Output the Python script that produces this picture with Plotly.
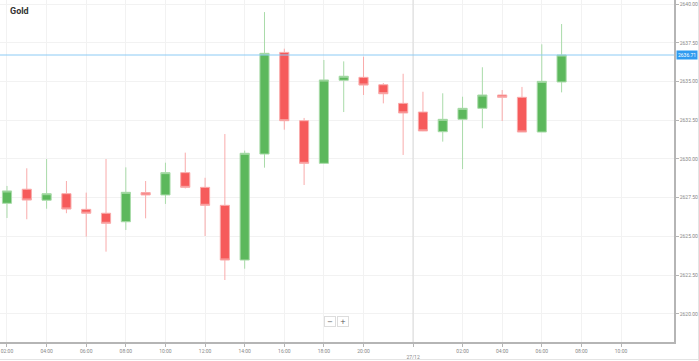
import plotly.graph_objects as go

# ---- data ----
times = [
    "2024-12-26 02:00", "2024-12-26 03:00", "2024-12-26 04:00", "2024-12-26 05:00",
    "2024-12-26 06:00", "2024-12-26 07:00", "2024-12-26 08:00", "2024-12-26 09:00",
    "2024-12-26 10:00", "2024-12-26 11:00", "2024-12-26 12:00", "2024-12-26 13:00",
    "2024-12-26 14:00", "2024-12-26 15:00", "2024-12-26 16:00", "2024-12-26 17:00",
    "2024-12-26 18:00", "2024-12-26 19:00", "2024-12-26 20:00", "2024-12-26 21:00",
    "2024-12-26 22:00", "2024-12-27 00:00", "2024-12-27 01:00", "2024-12-27 02:00",
    "2024-12-27 03:00", "2024-12-27 04:00", "2024-12-27 05:00", "2024-12-27 06:00",
    "2024-12-27 07:00",
]
open_ = [2627.14, 2628.05, 2627.34, 2627.76, 2626.75, 2626.50, 2625.95, 2627.83,
         2627.68, 2629.12, 2628.17, 2627.01, 2623.48, 2630.32, 2636.88, 2632.47,
         2629.72, 2635.08, 2635.27, 2634.79, 2633.59, 2633.03, 2631.76, 2632.56,
         2633.27, 2634.13, 2633.98, 2631.74, 2634.97]
high = [2628.26, 2629.40, 2630.00, 2628.58, 2627.83, 2630.00, 2629.46, 2628.58,
        2629.76, 2630.41, 2628.79, 2631.61, 2630.54, 2639.48, 2637.12, 2632.65,
        2636.39, 2636.30, 2636.60, 2634.90, 2635.50, 2634.34, 2634.24, 2634.02,
        2635.92, 2634.45, 2634.65, 2637.40, 2638.71]
low = [2626.19, 2626.11, 2626.79, 2626.50, 2624.99, 2624.02, 2625.42, 2626.17,
       2627.10, 2628.10, 2625.03, 2622.19, 2622.92, 2629.44, 2631.89, 2628.32,
       2629.68, 2633.03, 2634.13, 2633.59, 2630.26, 2631.80, 2631.12, 2629.35,
       2631.98, 2632.45, 2631.74, 2631.74, 2634.30]
close = [2627.94, 2627.35, 2627.76, 2626.77, 2626.50, 2625.85, 2627.85, 2627.68,
         2629.12, 2628.17, 2627.01, 2623.48, 2630.37, 2636.82, 2632.47, 2629.72,
         2635.10, 2635.34, 2634.77, 2634.21, 2632.97, 2631.81, 2632.56, 2633.27,
         2634.13, 2633.98, 2631.74, 2635.01, 2636.71]

x_tickvals = [
    "2024-12-26 02:00", "2024-12-26 04:00", "2024-12-26 06:00", "2024-12-26 08:00",
    "2024-12-26 10:00", "2024-12-26 12:00", "2024-12-26 14:00", "2024-12-26 16:00",
    "2024-12-26 18:00", "2024-12-26 20:00", "2024-12-26 22:30",
    "2024-12-27 02:00", "2024-12-27 04:00", "2024-12-27 06:00", "2024-12-27 08:00",
    "2024-12-27 10:00",
]
x_ticktext = ["02:00", "04:00", "06:00", "08:00", "10:00", "12:00", "14:00", "16:00",
              "18:00", "20:00", "<br>27/12", "02:00", "04:00", "06:00", "08:00", "10:00"]
day_separator = "2024-12-26 22:30"
market_break = ["2024-12-26 23:00"]
y_tickvals = [2620.0, 2622.5, 2625.0, 2627.5, 2630.0, 2632.5, 2635.0, 2637.5, 2640.0]
title = "Gold"
last_price = close[-1]

fig = go.Figure()
fig.add_trace(go.Candlestick(
    x=times, open=open_, high=high, low=low, close=close,
    increasing=dict(fillcolor="#5cb85c", line=dict(color="#a9dba9", width=1)),
    decreasing=dict(fillcolor="#f65b5b", line=dict(color="#f9abab", width=1)),
    hoverinfo="skip", showlegend=False,
))

tick_font = dict(family="Roboto, Open Sans, sans-serif", size=5, color="#888888")

fig.update_layout(
    width=699, height=361,
    margin=dict(l=0, r=25, t=0, b=19),
    paper_bgcolor="white", plot_bgcolor="white",
    boxgap=0.34,
    showlegend=False,
    xaxis=dict(
        type="date",
        range=["2024-12-26 01:38:50", "2024-12-27 12:40:30"],
        rangebreaks=[dict(values=market_break, dvalue=3600000)],
        rangeslider=dict(visible=False),
        tickmode="array", tickvals=x_tickvals, ticktext=x_ticktext,
        showgrid=True, gridcolor="#f2f2f2", gridwidth=1,
        showline=True, linecolor="#b5b5b5", linewidth=1.5,
        ticks="outside", ticklen=3, tickcolor="#b5b5b5",
        tickfont=tick_font, zeroline=False, fixedrange=True,
    ),
    yaxis=dict(
        side="right",
        range=[2618.19, 2640.26],
        tickmode="array", tickvals=y_tickvals, tickformat=".2f",
        showgrid=True, gridcolor="#f2f2f2", gridwidth=1,
        showline=True, linecolor="#b5b5b5", linewidth=1.5,
        ticks="outside", ticklen=3, tickcolor="#b5b5b5",
        tickfont=tick_font, zeroline=False, fixedrange=True,
    ),
    shapes=[
        dict(type="line", xref="x", yref="paper", x0=day_separator, x1=day_separator,
             y0=0, y1=1, line=dict(color="#d9d9d9", width=1)),
        dict(type="line", xref="paper", yref="y", x0=0, x1=1, y0=last_price, y1=last_price,
             line=dict(color="#8ccbf5", width=1)),
        dict(type="line", xref="paper", yref="paper", x0=-0.01, x1=1.05,
             y0=-0.0512, y1=-0.0512, line=dict(color="#e4e4e4", width=1)),
        dict(type="line", xref="paper", yref="paper", x0=1.0364, x1=1.0364,
             y0=-0.06, y1=1.01, line=dict(color="#e4e4e4", width=1)),
    ],
    annotations=[
        dict(text="<b>" + title + "</b>", xref="paper", yref="paper", x=0.012, y=1,
             xanchor="left", yanchor="top", yshift=-4, showarrow=False,
             font=dict(family="Roboto, Open Sans, sans-serif", size=9, color="#333333")),
        dict(text=f"{last_price:.2f}", xref="paper", yref="y", x=1, y=last_price,
             xanchor="left", yanchor="middle", xshift=2, showarrow=False,
             bgcolor="#2f9bf0", borderpad=1,
             font=dict(family="Roboto, Open Sans, sans-serif", size=5, color="white")),
        dict(text="\u2212", xref="paper", yref="paper", x=0.4896, y=0.0585,
             xanchor="center", yanchor="middle", showarrow=False,
             bordercolor="#dddddd", borderwidth=1, borderpad=1, bgcolor="white",
             width=8, height=7,
             font=dict(family="DejaVu Sans", size=7, color="#555555")),
        dict(text="+", xref="paper", yref="paper", x=0.5082, y=0.0585,
             xanchor="center", yanchor="middle", showarrow=False,
             bordercolor="#dddddd", borderwidth=1, borderpad=1, bgcolor="white",
             width=8, height=7,
             font=dict(family="DejaVu Sans", size=7, color="#555555")),
    ],
)

fig.write_html("out.html", config={"displayModeBar": False},
               post_script="document.body.style.margin='0px';")
